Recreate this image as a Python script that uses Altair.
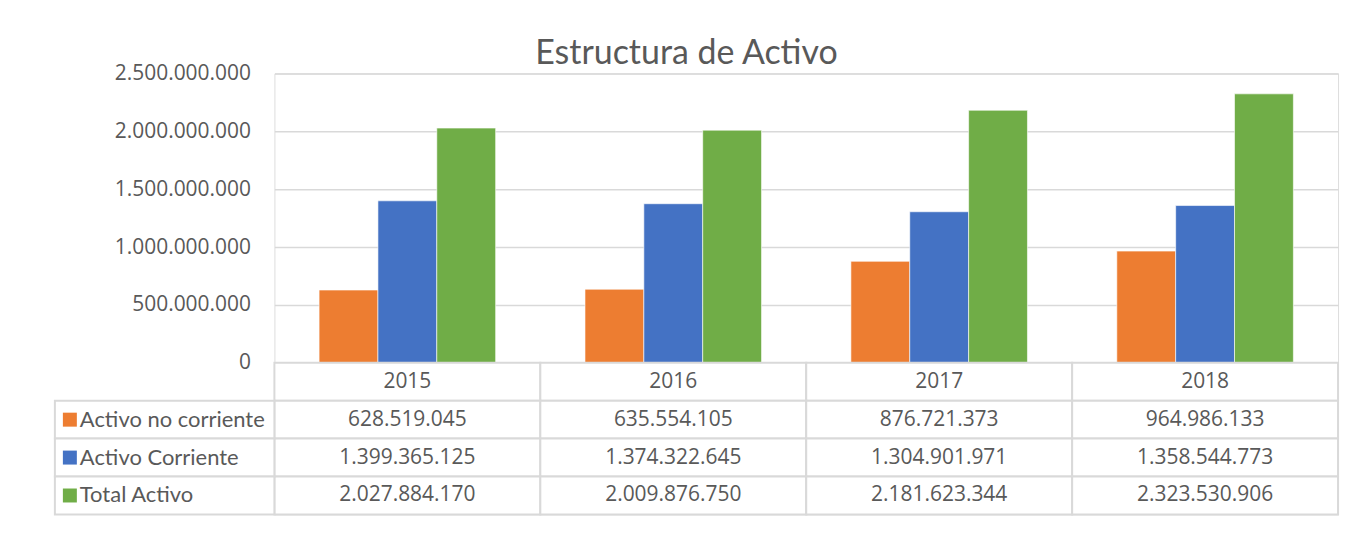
import altair as alt
import pandas as pd

years = ["2015", "2016", "2017", "2018"]
series = ["Activo no corriente", "Activo Corriente", "Total Activo"]
activo_no_corriente = [628519045, 635554105, 876721373, 964986133]
activo_corriente = [1399365125, 1374322645, 1304901971, 1358544773]
total_activo = [2027884170, 2009876750, 2181623344, 2323530906]
colors = ["#ED7D31", "#4472C4", "#70AD47"]
y_ticks = [0, 500000000, 1000000000, 1500000000, 2000000000, 2500000000]

values = {
    "Activo no corriente": activo_no_corriente,
    "Activo Corriente": activo_corriente,
    "Total Activo": total_activo,
}

rows = []
for s in series:
    for y, v in zip(years, values[s]):
        rows.append({"year": y, "serie": s, "valor": v,
                     "texto": f"{v:,}".replace(",", ".")})
df = pd.DataFrame(rows)

hdr = pd.DataFrame({"year": years, "serie": ["hdr"] * 4, "texto": years})
cells = pd.concat([hdr, df[["year", "serie", "texto"]]], ignore_index=True)
label_df = pd.DataFrame({"serie": series})

FONT = "Lato"
NUMFONT = "Open Sans"
GRAY = "#595959"
LINE = "#d9d9d9"
row_domain = ["hdr"] + series

color_scale = alt.Scale(domain=series, range=colors)

bars = alt.Chart(df).mark_bar(stroke="white", strokeWidth=0.6).encode(
    x=alt.X("year:N", sort=years,
            scale=alt.Scale(paddingInner=0.336, paddingOuter=0.168), axis=None),
    xOffset=alt.XOffset("serie:N", sort=series,
                        scale=alt.Scale(domain=series, paddingInner=0, paddingOuter=0)),
    y=alt.Y("valor:Q", scale=alt.Scale(domain=[0, 2500000000], nice=False),
            axis=alt.Axis(values=y_ticks, format=",d", title=None, domain=False,
                          ticks=False, labelPadding=24, labelFontSize=21,
                          labelColor=GRAY, labelFont=NUMFONT,
                          gridColor=LINE, gridWidth=1.5)),
    color=alt.Color("serie:N", scale=color_scale, legend=None),
).properties(width=1066, height=290)

ybase = alt.Y("serie:N", scale=alt.Scale(domain=row_domain, paddingInner=0, paddingOuter=0),
              axis=alt.Axis(title=None, domain=False, ticks=False, labelAlign="left",
                            labelPadding=195.5, labelFontSize=22, labelColor=GRAY,
                            labelFont=FONT, grid=False, labelLimit=0,
                            labelExpr="datum.value == 'hdr' ? '' : datum.value"))

xbase = alt.X("year:N", sort=years, scale=alt.Scale(paddingInner=0, paddingOuter=0), axis=None)

cell_rects = alt.Chart(cells).mark_rect(fill="white", stroke=LINE, strokeWidth=2).encode(
    x=xbase, y=ybase)

label_rects = alt.Chart(label_df).mark_rect(fill="white", stroke=LINE, strokeWidth=2).encode(
    x=alt.value(-220), x2=alt.value(0), y=ybase)

squares = alt.Chart(label_df).mark_square(size=196, opacity=1, filled=True).encode(
    x=alt.value(-205), y=ybase,
    color=alt.Color("serie:N", scale=color_scale, legend=None))

cell_text = alt.Chart(cells).mark_text(fontSize=21, color=GRAY, font=NUMFONT).encode(
    x=xbase, y=ybase, text="texto:N")

table = alt.layer(cell_rects, label_rects, squares, cell_text).properties(
    width=1066, height=152)

chart = alt.vconcat(bars, table, spacing=0, bounds="flush").properties(
    title=alt.TitleParams("Estructura de Activo", fontSize=34, color=GRAY, font=FONT,
                          fontWeight="normal", anchor="middle", frame="bounds",
                          offset=-9, dx=-10),
    padding={"left": 45, "top": 28, "right": 20, "bottom": 10},
).configure_view(stroke=None).configure(
    font=FONT,
    locale={"number": {"decimal": ",", "thousands": ".", "grouping": [3],
                       "currency": ["", "€"]}},
)

chart.save("out.html", embed_options={"renderer": "svg", "actions": False})
